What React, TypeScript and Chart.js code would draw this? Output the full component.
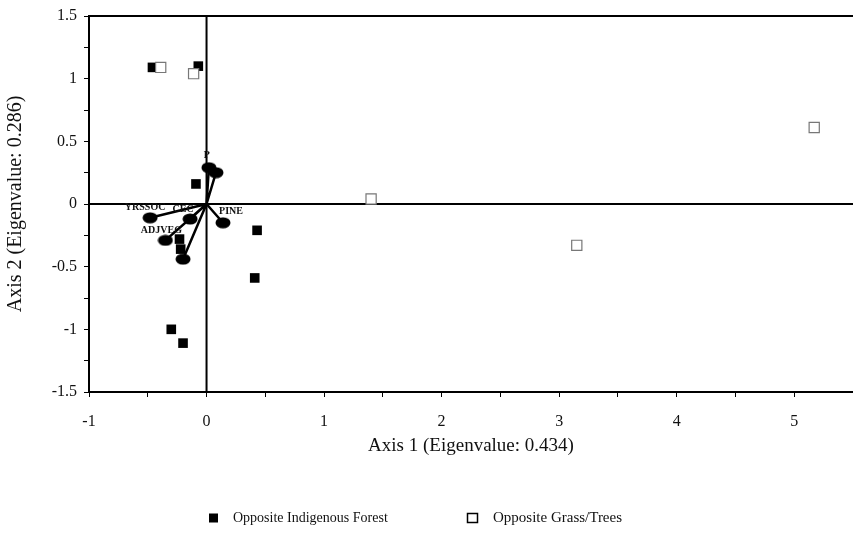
import { useEffect, useRef } from "react";
import { Chart, registerables } from "chart.js";

Chart.register(...registerables);

// Site scores on the first two ordination axes
const forestX = [-0.46, -0.07, -0.09, 0.43, 0.41, -0.3, -0.2, -0.23, -0.22];
const forestY = [1.09, 1.1, 0.16, -0.21, -0.59, -1.0, -1.11, -0.28, -0.36];
const grassX = [-0.39, -0.11, 1.4, 3.15, 5.17];
const grassY = [1.09, 1.04, 0.04, -0.33, 0.61];

// Environmental variable vectors (biplot arrows from the origin)
const vectorNames = ["P", "", "YRSSOC", "CEC", "PINE", "ADJVEG", ""];
const vectorX = [0.02, 0.08, -0.48, -0.14, 0.14, -0.35, -0.2];
const vectorY = [0.29, 0.25, -0.11, -0.12, -0.15, -0.29, -0.44];

const seriesNames = ["Opposite Indigenous Forest", "Opposite Grass/Trees"];
const xTitle = "Axis 1 (Eigenvalue: 0.434)";
const yTitle = "Axis 2 (Eigenvalue: 0.286)";

const SERIF = "'Liberation Serif', 'Times New Roman', serif";

// label placement relative to the vector tip, in pixels
const labelNudge: Record<string, [number, number]> = {
  P: [-2, -12],
  YRSSOC: [-5, -10],
  CEC: [-7, -10],
  PINE: [8, -11],
  ADJVEG: [-4, -10],
};

function ellipseSprite(): HTMLCanvasElement {
  const c = document.createElement("canvas");
  c.width = 16;
  c.height = 12;
  const g = c.getContext("2d")!;
  g.fillStyle = "#000";
  g.beginPath();
  g.ellipse(8, 6, 7.5, 5.5, 0, 0, Math.PI * 2);
  g.fill();
  return c;
}

const framePlugin = {
  id: "frame",
  beforeDatasetsDraw(chart: any) {
    const { ctx, chartArea: a, scales } = chart;
    const x0 = scales.x.getPixelForValue(0);
    const y0 = scales.y.getPixelForValue(0);
    ctx.save();
    ctx.strokeStyle = "#000";
    ctx.lineWidth = 2;
    ctx.beginPath();
    ctx.moveTo(a.left, a.top);
    ctx.lineTo(a.right, a.top);
    ctx.moveTo(a.left, y0);
    ctx.lineTo(a.right, y0);
    ctx.moveTo(x0, a.top);
    ctx.lineTo(x0, a.bottom);
    ctx.stroke();
    // biplot arrows
    ctx.lineWidth = 2.5;
    ctx.beginPath();
    vectorX.forEach((vx, i) => {
      ctx.moveTo(x0, y0);
      ctx.lineTo(scales.x.getPixelForValue(vx), scales.y.getPixelForValue(vectorY[i]));
    });
    ctx.stroke();
    ctx.restore();
  },
  afterDatasetsDraw(chart: any) {
    const { ctx, scales } = chart;
    ctx.save();
    ctx.fillStyle = "#111";
    ctx.font = `bold 10px ${SERIF}`;
    ctx.textAlign = "center";
    ctx.textBaseline = "middle";
    vectorNames.forEach((name, i) => {
      if (!name) return;
      const [dx, dy] = labelNudge[name] || [0, -10];
      ctx.fillText(
        name,
        scales.x.getPixelForValue(vectorX[i]) + dx,
        scales.y.getPixelForValue(vectorY[i]) + dy
      );
    });
    ctx.restore();
  },
  afterDraw(chart: any) {
    const { ctx } = chart;
    const y = 518;
    ctx.save();
    ctx.font = `14px ${SERIF}`;
    ctx.textBaseline = "middle";
    ctx.textAlign = "left";
    // filled marker
    ctx.fillStyle = "#000";
    ctx.fillRect(209, y - 4.5, 9, 9);
    ctx.fillStyle = "#111";
    ctx.fillText(seriesNames[0], 233, y);
    // open marker
    ctx.strokeStyle = "#000";
    ctx.lineWidth = 1.5;
    ctx.strokeRect(467.5, y - 4.5, 10, 9);
    ctx.font = `15px ${SERIF}`;
    ctx.fillText(seriesNames[1], 493, y);
    ctx.restore();
  },
};

export default function App() {
  const ref = useRef<HTMLCanvasElement>(null);

  useEffect(() => {
    const canvas = ref.current!;
    const sprite = ellipseSprite();
    const chart = new Chart(canvas, {
      type: "scatter",
      data: {
        datasets: [
          {
            label: seriesNames[1],
            data: grassX.map((x, i) => ({ x, y: grassY[i] })),
            pointStyle: "rect",
            pointRadius: 7.2,
            backgroundColor: "#fff",
            borderColor: "#777",
            borderWidth: 1.2,
          },
          {
            label: seriesNames[0],
            data: forestX.map((x, i) => ({ x, y: forestY[i] })),
            pointStyle: "rect",
            pointRadius: 6.8,
            backgroundColor: "#000",
            borderColor: "#000",
            borderWidth: 0,
          },
          {
            label: "vectors",
            data: vectorX.map((x, i) => ({ x, y: vectorY[i] })),
            pointStyle: sprite,
            pointRadius: 7,
          },
        ],
      },
      options: {
        responsive: false,
        animation: false,
        devicePixelRatio: 1,
        layout: { autoPadding: false, padding: { left: 0, top: 16, right: 0, bottom: 87 } },
        plugins: {
          legend: { display: false },
          tooltip: { enabled: false },
        },
        scales: {
          x: {
            type: "linear",
            min: -1,
            max: 5.5,
            afterFit: (s: any) => {
              s.height = 80;
              s.paddingLeft = 0;
              s.paddingRight = 0;
            },
            ticks: {
              stepSize: 0.5,
              autoSkip: false,
              maxRotation: 0,
              padding: 15,
              color: "#111",
              font: { family: SERIF, size: 16 },
              callback: (v: any) => (Number.isInteger(Number(v)) ? String(v) : ""),
            },
            grid: {
              drawOnChartArea: false,
              drawTicks: true,
              tickLength: 5,
              color: "#000",
            },
            border: { display: true, color: "#000", width: 2 },
            title: {
              display: true,
              text: xTitle,
              color: "#111",
              font: { family: SERIF, size: 19 },
              padding: { top: 0, bottom: 14.6 },
            },
          },
          y: {
            type: "linear",
            min: -1.5,
            max: 1.5,
            afterFit: (s: any) => {
              s.width = 89;
              s.paddingTop = 0;
              s.paddingBottom = 0;
            },
            ticks: {
              stepSize: 0.25,
              autoSkip: false,
              padding: 7,
              color: "#111",
              font: { family: SERIF, size: 16 },
              callback: (v: any) => {
                const n = Number(v);
                return Math.abs(n * 2 - Math.round(n * 2)) < 1e-9 ? String(n) : "";
              },
            },
            grid: {
              drawOnChartArea: false,
              drawTicks: true,
              tickLength: 5,
              color: "#000",
            },
            border: { display: true, color: "#000", width: 2 },
            title: {
              display: true,
              text: yTitle,
              color: "#111",
              font: { family: SERIF, size: 20 },
              padding: { top: 4, bottom: 0 },
            },
          },
        },
      },
      plugins: [framePlugin],
    });
    return () => chart.destroy();
  }, []);

  return (
    <div style={{ position: "absolute", left: 0, top: 0, width: 853, height: 559, background: "#fff" }}>
      <canvas ref={ref} width={853} height={559} />
    </div>
  );
}
